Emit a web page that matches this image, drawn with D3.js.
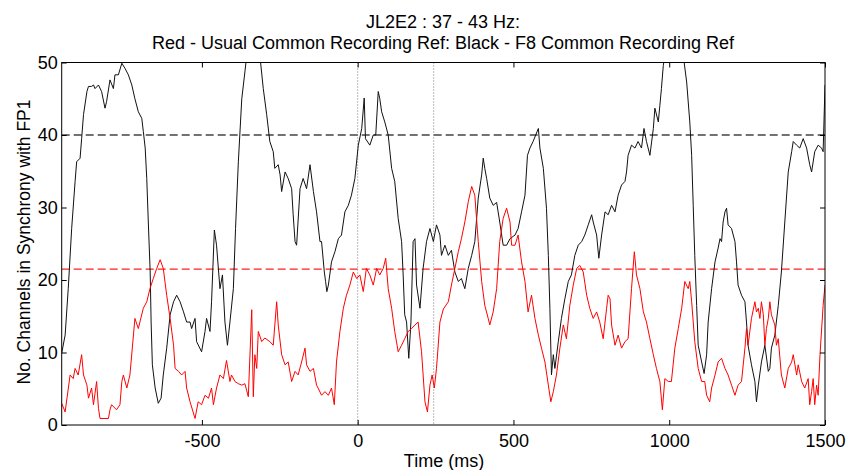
<!DOCTYPE html>
<html>
<head>
<meta charset="utf-8">
<script src="https://cdn.jsdelivr.net/npm/d3@7"></script>
<style>
html,body{margin:0;padding:0;background:#fff;}
svg text{font-family:"Liberation Sans",Arial,sans-serif;fill:#000;}
</style>
</head>
<body>
<svg id="chart" width="848" height="470"></svg>
<script>
const titleLines = ["JL2E2 : 37 - 43 Hz:", "Red - Usual Common Recording Ref: Black - F8 Common Recording Ref"];
const xLabel = "Time (ms)";
const yLabel = "No. Channels in Synchrony with FP1";
const xTicks = [-500, 0, 500, 1000, 1500];
const yTicks = [0, 10, 20, 30, 40, 50];
const xDomain = [-950, 1500];
const yDomain = [0, 50];
const blackThreshold = 40;
const redThreshold = 21.5;
const markerTimes = [0, 244];

const blackTime = [-950,-939,-929,-918,-907,-902,-891,-886,-880,-869,-864,-854,-848,-843,-832,-822,-811,-806,-795,-784,-779,-768,-757,-747,-736,-725,-715,-704,-693,-688,-682,-677,-672,-666,-663,-659,-650,-640,-631,-624,-613,-602,-591,-581,-570,-559,-549,-538,-533,-522,
-517,-501,-490,-485,-474,-469,-460,-453,-442,-434,-426,-418,-410,-399,-392,-383,-372,-362,-356,-345,-330,-314,-303,-292,-282,-271,-266,-255,-249,-244,-233,-223,-212,-207,-201,-196,-185,-175,-164,-153,-142,-132,-121,-116,-107,-103,-99,-94,
-84,-73,-62,-52,-41,-30,-20,-9,2,13,21,25,39,50,58,66,71,77,87,98,109,119,130,141,146,151,157,164,171,178,184,189,200,210,221,232,243,253,264,269,280,291,301,312,
323,333,344,355,366,376,387,398,403,408,414,424,435,446,456,467,478,489,505,515,526,537,545,553,563,580,585,596,606,612,617,622,628,633,644,654,665,676,686,697,708,719,729,
740,751,756,767,774,783,794,804,815,826,836,847,858,863,868,879,890,900,911,919,927,938,949,954,965,970,975,981,986,1000,1015,1030,1045,1056,1066,1072,1077,1082,1088,1093,1104,1112,1120,
1125,1136,1147,1157,1163,1168,1173,1179,1184,1189,1200,1211,1216,1221,1232,1243,1248,1253,1264,1275,1280,1286,1296,1307,1318,1323,1328,1339,1350,1360,1371,1382,1393,1398,1409,1419,1430,1441,1451,1457,1467,1478,1489,1494,1500];
const blackValue = [9.9,12.4,18.8,27.1,33.6,36.3,36.8,39.5,42.8,46,46.7,46.7,46.9,46.4,46.9,46,43.7,44.6,47.6,46.4,48.3,48.3,49.9,49.2,48.3,46.9,45,43.2,42.3,40.5,38.2,34,28,21.1,14.2,8.3,5.1,3.0,3.7,6.9,10.6,15.2,17,17.9,17,15.6,14.2,14.2,13.3,14.7,
11.5,10.1,12.9,14.7,12.9,17,26.9,24.8,18.8,20.7,14.2,11,14.2,18.8,27.1,36.3,45,48.7,51,53,53,51,46.4,42.8,39.1,37.7,35.4,35.9,34.5,32.2,34.9,34,32.6,29,25.3,24.8,32.6,34,32.6,35.9,32.2,29.4,25.3,25.3,21.1,19.8,18.4,19.3,
22.5,23.9,25.7,26.2,29.4,30.3,31.7,34,38.6,40.9,45.1,39.5,38.6,40,40,46,45,43.2,41.8,40,35.4,33.6,28.5,25.3,20.7,15.2,14.2,9.2,14.2,25.3,25.7,19.3,16.1,21.6,25.3,27.1,25.3,27.6,26.2,23.4,24.8,23.4,24.1,21.1,
19.8,20.2,18.8,21.6,23.4,25.3,31.3,34.5,36.8,35.4,34,31.3,30.3,30.7,28,24.8,24.8,25.7,26.2,27.1,29.4,31.7,37.2,38.2,39.1,40.9,38.2,35.4,29.9,23.4,16.1,6.9,9.7,7.8,11.5,14.7,17.4,19.8,20.7,23.4,24.8,25.3,26.2,
27.6,29,28,26.2,23,26.2,29.4,29,30.3,29.4,31.7,33.1,33.6,34.9,37.2,38.6,38.2,39.1,38.2,40.9,39.1,37.2,40.9,43.7,41.8,44.1,46.4,49.6,51,52,52,52,51,47.3,41.8,37.2,30.3,23.4,16.5,11,8.7,7.1,9.7,
14.2,18.8,22.5,24.4,25.7,25.3,28,29.4,29.9,27.6,27.1,25.3,22.5,19.3,17.9,17,14.2,11,8.3,6,3.2,5.5,8.7,11,7.4,7.8,10.6,12.4,16.5,21.1,28,34.9,37.7,39.1,38.6,38.2,39.5,38.2,35.9,34.9,37.7,38.6,38.2,37.7,46.9];

const redTime = [-950,-939,-923,-913,-907,-897,-886,-880,-869,-864,-854,-848,-838,-832,-827,-800,-795,-790,-774,-763,-757,-752,-741,-731,-715,-704,-699,-688,-677,-666,-656,-645,-634,-624,-613,-602,-591,-586,-575,-565,-554,
-549,-538,-522,-512,-501,-490,-479,-469,-463,-453,-442,-431,-421,-410,-405,-394,-383,-372,-362,-351,-340,-335,-330,-324,-319,-308,-298,-282,-271,-260,-255,-244,-233,-223,-212,-201,-191,-180,-169,-164,-153,-142,-132,
-127,-116,-105,-94,-84,-75,-68,-57,-46,-36,-25,-14,-3,7,18,28,39,50,61,71,82,90,98,109,119,130,141,151,162,173,184,194,205,216,224,232,239,246,253,264,275,
291,301,312,323,333,344,355,366,376,387,398,408,419,424,435,446,456,467,478,489,494,505,515,526,537,547,558,569,580,590,601,612,620,628,638,649,660,670,681,692,703,713,724,
735,745,756,767,777,788,799,804,810,815,826,836,847,858,868,879,888,895,906,917,927,938,949,959,970,978,986,997,1007,1018,1029,1040,1050,1061,1066,1072,1082,1093,1104,
1114,1120,1130,1136,1147,1157,1168,1179,1189,1200,1211,1221,1232,1243,1248,1253,1264,1275,1280,1286,1291,1296,1302,1307,1312,1318,1323,1328,1339,1344,1350,1360,1371,1382,1393,1398,1409,1414,1425,1435,1446,1451,1457,1462,1467,1473,1478,1484,1494,1500];
const redValue = [3.0,1.8,6.9,6.4,7.8,6.9,9.7,6.9,5.5,3.7,5.1,2.8,6,2.3,0.9,0.9,2.1,2.8,2.1,2.8,6,6.9,5.1,6.9,14.7,13.3,14.2,16.1,17,18.9,20.2,21.6,22.8,21.6,17.9,14.7,11,7.8,7.4,6.9,7.4,
5.1,3.2,0.9,3.2,2.8,4.1,3.7,5.1,2.8,5.1,6.9,6.4,8.9,6,6.9,6,5.7,5.5,5.7,3.9,15.9,3.9,9.7,7.8,12.9,11.5,12,11.5,11,17,13.8,9.7,8.3,8.7,6,7.4,6.9,8.7,10.6,8.3,7.4,7.8,5.5,
5.1,4.1,4.6,4.1,5.1,2.8,8.7,12.9,16.1,17.9,19.3,21.1,20.2,20.7,18.4,21.6,20.7,19.3,21.6,20.7,21.6,23,18.8,16.1,12.9,10.1,11,11.9,12.9,13.3,13.8,14.2,10.1,3.2,1.8,5.5,6.9,5.1,7.8,14.2,16,
17,19.3,21.6,23.9,25.7,28,30.8,32.9,31.7,25.3,19.8,16.5,14.7,13.8,15.6,18.8,25.3,28.5,29.9,28,24.8,24.8,26.2,22.5,19.8,15.6,17.9,14.7,12.4,10.6,8.7,5.5,3.2,4.6,6.9,10.6,13.8,11.9,16.5,19.3,21.6,22,21.1,
17.9,16.1,14.7,15.6,14.2,11.9,16.1,17.9,17.4,13.8,11,12.4,10.6,11.5,11.9,18.8,23.9,20.7,18.8,15.6,14.2,11.9,9.7,7.8,6,2.1,6.4,6,6,10.6,13.3,16.1,19.8,18.8,19.8,17,11.5,7.8,6,
6,4.1,3.2,5.1,6.9,8.7,9.2,7.8,6.9,5.5,4.1,5.5,6,10.6,13.3,11,14.7,17,15.6,16.1,14.7,17,15.2,11,13.3,14.7,17,15.2,13.8,11,11.9,6.9,5.1,7.8,8.7,9.7,6.9,8.3,6,5.1,6.4,2.8,4.6,6.4,2.8,5.5,4.1,9.7,16.5,19.3];

const W = 848, H = 470;
const m = {left: 61.7, right: 848 - 825, top: 62.5, bottom: 470 - 425};
const FS = 18;
const svg = d3.select("#chart");
const x = d3.scaleLinear().domain(xDomain).range([m.left, W - m.right]);
const y = d3.scaleLinear().domain(yDomain).range([H - m.bottom, m.top]);

svg.append("defs").append("clipPath").attr("id", "clip")
  .append("rect").attr("x", m.left).attr("y", m.top)
  .attr("width", W - m.left - m.right).attr("height", H - m.top - m.bottom);

const plot = svg.append("g").attr("clip-path", "url(#clip)");

// vertical dotted markers
plot.selectAll(".marker").data(markerTimes).join("line")
  .attr("x1", d => x(d)).attr("x2", d => x(d))
  .attr("y1", m.top).attr("y2", H - m.bottom)
  .attr("stroke", "#777").attr("stroke-width", 1).attr("stroke-dasharray", "1,2");

// threshold lines
plot.append("line").attr("x1", m.left).attr("x2", W - m.right)
  .attr("y1", y(blackThreshold)).attr("y2", y(blackThreshold))
  .attr("stroke", "#444").attr("stroke-width", 1.3).attr("stroke-dasharray", "8,4");
plot.append("line").attr("x1", m.left).attr("x2", W - m.right)
  .attr("y1", y(redThreshold)).attr("y2", y(redThreshold))
  .attr("stroke", "#ff2020").attr("stroke-width", 1.3).attr("stroke-dasharray", "8,4");

const line = d3.line().x(d => x(d[0])).y(d => y(d[1]));
plot.append("path").datum(blackTime.map((t, i) => [t, blackValue[i]]))
  .attr("d", line).attr("fill", "none").attr("stroke", "#111").attr("stroke-width", 1);
plot.append("path").datum(redTime.map((t, i) => [t, redValue[i]]))
  .attr("d", line).attr("fill", "none").attr("stroke", "#ff0000").attr("stroke-width", 1);

// axes (MATLAB-style box with inward ticks)
const tickLen = 5;
const fmt = d => String(d);
svg.append("g").attr("transform", `translate(0,${H - m.bottom})`)
  .call(d3.axisBottom(x).tickValues(xTicks).tickSizeInner(-tickLen).tickSizeOuter(0).tickPadding(9).tickFormat(fmt))
  .call(g => g.select(".domain").remove());
svg.append("g").attr("transform", `translate(0,${m.top})`)
  .call(d3.axisTop(x).tickValues(xTicks).tickSizeInner(-tickLen).tickSizeOuter(0).tickFormat(""))
  .call(g => g.select(".domain").remove());
svg.append("g").attr("transform", `translate(${m.left},0)`)
  .call(d3.axisLeft(y).tickValues(yTicks).tickSizeInner(-tickLen).tickSizeOuter(0).tickPadding(4).tickFormat(fmt))
  .call(g => g.select(".domain").remove());
svg.append("g").attr("transform", `translate(${W - m.right},0)`)
  .call(d3.axisRight(y).tickValues(yTicks).tickSizeInner(-tickLen).tickSizeOuter(0).tickFormat(""))
  .call(g => g.select(".domain").remove());
svg.selectAll(".tick line").attr("stroke", "#000");
svg.selectAll(".tick text").attr("font-size", FS).attr("font-family", "Liberation Sans, Arial, sans-serif").attr("fill", "#000");

svg.append("rect").attr("x", m.left).attr("y", m.top)
  .attr("width", W - m.left - m.right).attr("height", H - m.top - m.bottom)
  .attr("fill", "none").attr("stroke", "#000").attr("stroke-width", 1);

// titles
svg.selectAll(".title").data(titleLines).join("text")
  .attr("x", 443).attr("y", (d, i) => 28 + i * 20.5)
  .attr("text-anchor", "middle").attr("font-size", FS).text(d => d);
svg.append("text").attr("x", 444).attr("y", 467).attr("text-anchor", "middle")
  .attr("font-size", FS).text(xLabel);
svg.append("text").attr("transform", `translate(30,242) rotate(-90)`)
  .attr("text-anchor", "middle").attr("font-size", 17.5).text(yLabel);
</script>
</body>
</html>
